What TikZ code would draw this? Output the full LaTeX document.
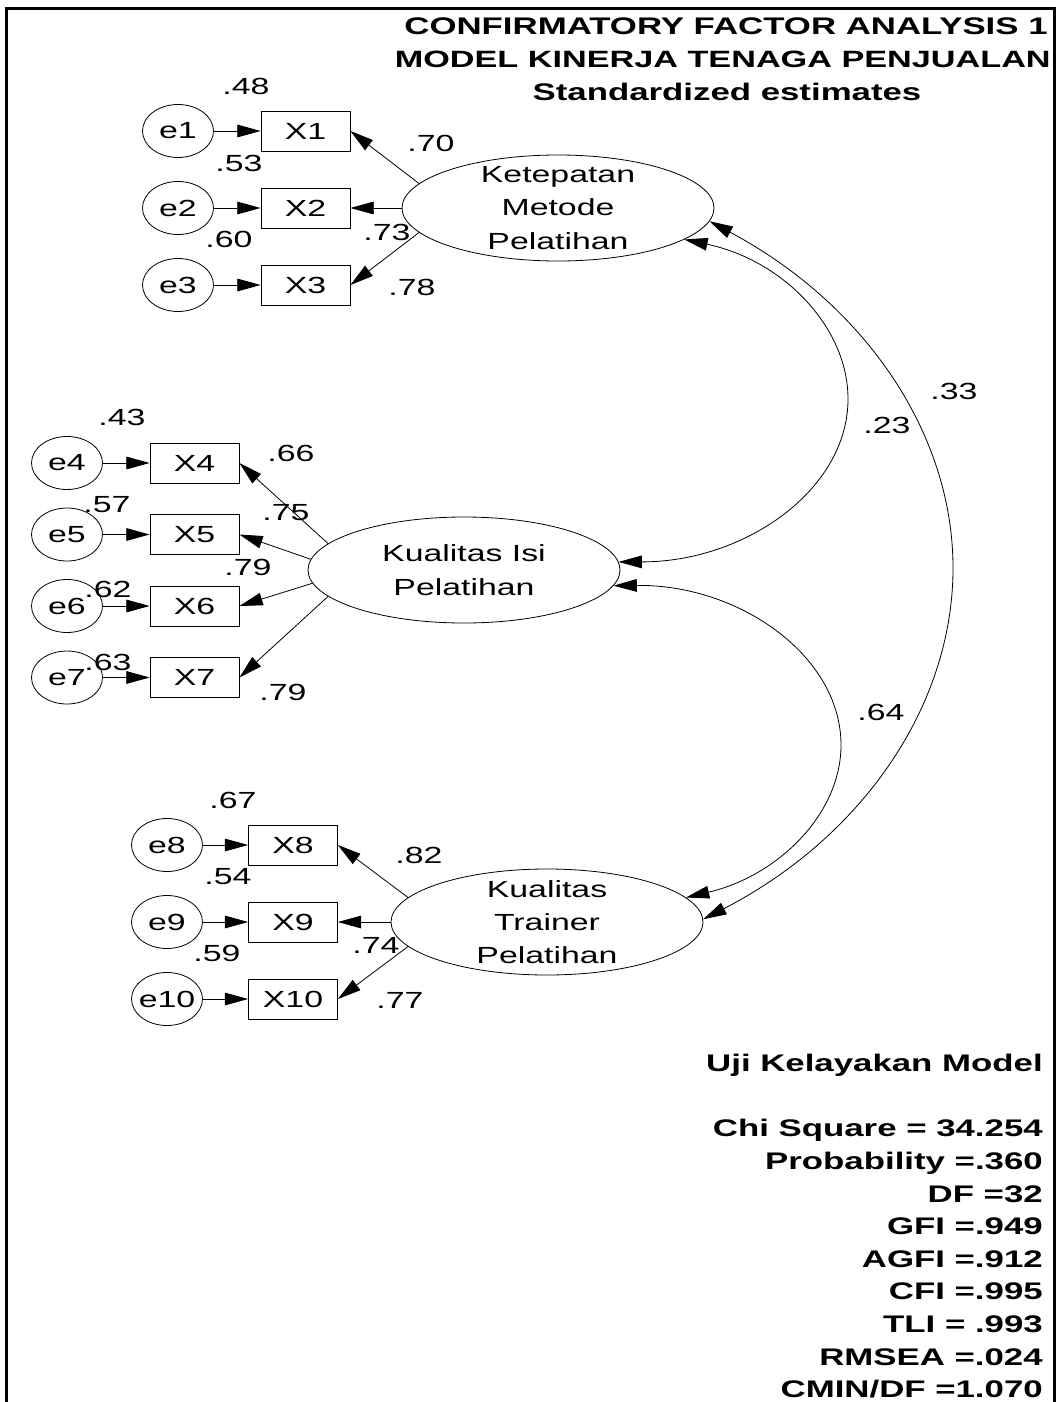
\documentclass[tikz,border=0pt]{standalone}
\usepackage{fontspec}
\setmainfont[FakeStretch=1.45]{Liberation Sans}
\usetikzlibrary{arrows.meta,shapes.geometric}
\begin{document}
\begin{tikzpicture}[x=0.75pt,y=-0.75pt,
  every node/.style={inner sep=0pt},
  lbl/.style={font=\fontsize{17.5}{21}\selectfont},
  hdr/.style={font=\bfseries\fontsize{18}{21}\selectfont, anchor=base},
  stat/.style={font=\bfseries\fontsize{18}{21}\selectfont, anchor=base east},
  obs/.style={draw, rectangle, minimum width=66.75pt, minimum height=30pt,
              line width=0.6pt, font=\fontsize{17.5}{21}\selectfont},
  err/.style={draw, ellipse, minimum width=53.25pt, minimum height=39.75pt, line width=0.6pt},
  lat/.style={draw, ellipse, minimum width=234pt, minimum height=79.5pt, line width=0.6pt},
  lattext/.style={align=center, font=\fontsize{17.5}{25}\selectfont},
  arr/.style={line width=0.6pt, -{Triangle[length=17.5pt,width=9.5pt]}},
  cov/.style={line width=0.6pt,
              {Triangle[length=17.5pt,width=9.5pt]}-{Triangle[length=17.5pt,width=9.5pt]}},
  frame/.style={line width=2.6pt, line join=miter}
]
\useasboundingbox (0,0) rectangle (1057,1402);
\fill[white] (0,0) rectangle (1057,1402);
\draw[frame] (6.5,1402) -- (6.5,8.5) -- (1054.5,8.5) -- (1054.5,1402);

% heading
\node[hdr] (t1) at (726,35) {CONFIRMATORY FACTOR ANALYSIS 1};
\node[hdr, anchor=base east, font=\bfseries\fontsize{17.7}{21}\selectfont]
  (t2) at (1051,68) {MODEL KINERJA TENAGA PENJUALAN};
\node[hdr] (t3) at (727,100.5) {Standardized estimates};

% ---------- Ketepatan Metode Pelatihan ----------
\node[lat] (K) at (558,208) {};
\node[lattext] (Kt) at (K) {Ketepatan\\Metode\\Pelatihan};
\node[obs] (X1) at (305.5,131) {X1};
\node[obs] (X2) at (305.5,208) {X2};
\node[obs] (X3) at (305.5,285) {X3};
\node[err] (e1) at (178,131) {}; \node[lbl] (e1t) at (e1) {e1};
\node[err] (e2) at (178,208) {}; \node[lbl] (e2t) at (e2) {e2};
\node[err] (e3) at (178,285) {}; \node[lbl] (e3t) at (e3) {e3};
\draw[arr] (e1) -- (X1);
\draw[arr] (e2) -- (X2);
\draw[arr] (e3) -- (X3);
\draw[arr] (K.170) -- (X1.east);
\draw[arr] (K.west) -- (X2.east);
\draw[arr] (K.190) -- (X3.east);
\node[lbl] (r1) at (246,86) {.48};
\node[lbl] (r2) at (239,163) {.53};
\node[lbl] (r3) at (229,239) {.60};
\node[lbl] (l1) at (431,143) {.70};
\node[lbl] (l2) at (387,232) {.73};
\node[lbl] (l3) at (412,287) {.78};

% ---------- Kualitas Isi Pelatihan ----------
\node[lat] (I) at (464,570) {};
\node[lattext] (It) at (I) {Kualitas Isi\\Pelatihan};
\node[obs] (X4) at (194.5,463) {X4};
\node[obs] (X5) at (194.5,534.5) {X5};
\node[obs] (X6) at (194.5,606) {X6};
\node[obs] (X7) at (194.5,677.5) {X7};
\node[err] (e4) at (67,463) {}; \node[lbl] (e4t) at (e4) {e4};
\node[err] (e5) at (67,534.5) {}; \node[lbl] (e5t) at (e5) {e5};
\node[err] (e6) at (67,606) {}; \node[lbl] (e6t) at (e6) {e6};
\node[err] (e7) at (67,677.5) {}; \node[lbl] (e7t) at (e7) {e7};
\draw[arr] (e4) -- (X4);
\draw[arr] (e5) -- (X5);
\draw[arr] (e6) -- (X6);
\draw[arr] (e7) -- (X7);
\draw[arr] (I.169) -- (X4.east);
\draw[arr] (I.176) -- (X5.east);
\draw[arr] (I.185) -- (X6.east);
\draw[arr] (I.191) -- (X7.east);
\node[lbl] (r4) at (122,417) {.43};
\node[lbl] (r5) at (107,505) {.57};
\node[lbl] (r6) at (108,589) {.62};
\node[lbl] (r7) at (108,662) {.63};
\node[lbl] (l4) at (291,453) {.66};
\node[lbl] (l5) at (286,513) {.75};
\node[lbl] (l6) at (248,567) {.79};
\node[lbl] (l7) at (283,692) {.79};

% ---------- Kualitas Trainer Pelatihan ----------
\node[lat] (T) at (547,922) {};
\node[lattext] (Tt) at (T) {Kualitas\\Trainer\\Pelatihan};
\node[obs] (X8) at (293,845) {X8};
\node[obs] (X9) at (293,922) {X9};
\node[obs] (X10) at (293,999) {X10};
\node[err] (e8) at (167,845) {}; \node[lbl] (e8t) at (e8) {e8};
\node[err] (e9) at (167,922) {}; \node[lbl] (e9t) at (e9) {e9};
\node[err] (e10) at (167,999) {}; \node[lbl] (e10t) at (e10) {e10};
\draw[arr] (e8) -- (X8);
\draw[arr] (e9) -- (X9);
\draw[arr] (e10) -- (X10);
\draw[arr] (T.170) -- (X8.east);
\draw[arr] (T.west) -- (X9.east);
\draw[arr] (T.190) -- (X10.east);
\node[lbl] (r8) at (233,800) {.67};
\node[lbl] (r9) at (228,877) {.54};
\node[lbl] (r10) at (217,953) {.59};
\node[lbl] (l8) at (419,855) {.82};
\node[lbl] (l9) at (376,945) {.74};
\node[lbl] (l10) at (400,1000) {.77};

% ---------- correlations between the factors ----------
\coordinate (m33) at (953,568);
\coordinate (m23) at (848,399);
\coordinate (m64) at (841,745);
\draw[cov] (K.-5) .. controls +(153.3,81.7) and +(0,-136.6) .. (m33)
                  .. controls +(0,139) and +(157.8,-81.3) .. (T.1);
\draw[cov] (K.-14) .. controls +(97.7,20.4) and +(0,-72.7) .. (m23)
                   .. controls +(0,90.6) and +(126.8,0) .. (I.3);
\draw[cov] (I.-6) .. controls +(125.2,-1.6) and +(0,-89.4) .. (m64)
                  .. controls +(0,69.1) and +(91.9,-21.6) .. (T.10);
\node[lbl] (c33) at (954,391) {.33};
\node[lbl] (c23) at (887,425) {.23};
\node[lbl] (c64) at (881,712) {.64};

% ---------- fit indices ----------
\node[stat] (s0) at (1043,1071.7) {Uji Kelayakan Model};
\node[stat] (s1) at (1043,1136.9) {Chi Square = 34.254};
\node[stat] (s2) at (1043,1169.5) {Probability =.360};
\node[stat] (s3) at (1043,1202.1) {DF =32};
\node[stat] (s4) at (1043,1234.7) {GFI =.949};
\node[stat] (s5) at (1043,1267.3) {AGFI =.912};
\node[stat] (s6) at (1043,1299.9) {CFI =.995};
\node[stat] (s7) at (1043,1332.5) {TLI = .993};
\node[stat] (s8) at (1043,1365.1) {RMSEA =.024};
\node[stat] (s9) at (1043,1397.7) {CMIN/DF =1.070};
\end{tikzpicture}
\end{document}
